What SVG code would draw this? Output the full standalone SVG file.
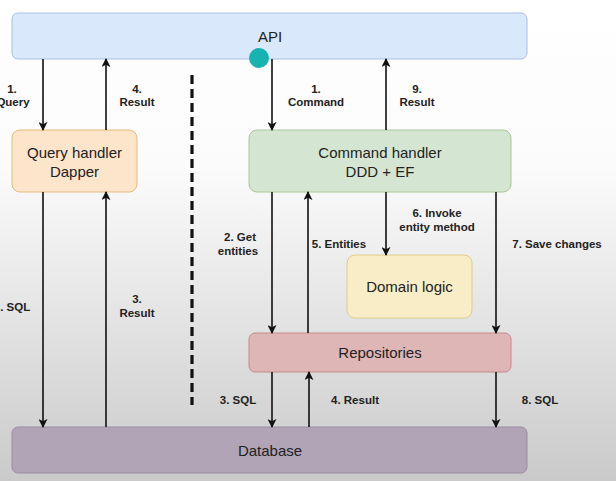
<svg xmlns="http://www.w3.org/2000/svg" width="616" height="481" viewBox="0 0 616 481">
<defs>
<linearGradient id="bg" x1="0" y1="0" x2="0" y2="1">
<stop offset="0" stop-color="#ffffff"/>
<stop offset="0.35" stop-color="#fbfbfb"/>
<stop offset="1" stop-color="#cacaca"/>
</linearGradient>
<marker id="ah" viewBox="0 0 10 10" refX="9" refY="5" markerWidth="9" markerHeight="9" markerUnits="userSpaceOnUse" orient="auto">
<path d="M0,0 L10,5 L0,10 L2.5,5 Z" fill="#111"/>
</marker>
<style>
.node text{font-family:"Liberation Sans",Arial,sans-serif;font-size:15px;fill:#222;text-anchor:middle}
.lbl{font-family:"Liberation Sans",Arial,sans-serif;font-size:11.5px;font-weight:bold;fill:#222;text-anchor:middle}
.edge{stroke:#111;stroke-width:1.6;fill:none;marker-end:url(#ah)}
</style>
</defs>
<rect x="0" y="0" width="616" height="481" fill="url(#bg)"/>

<g id="api" class="node">
<rect x="12" y="13" width="515" height="46" rx="6" fill="#dae8fc" stroke="#a9bfe0" stroke-width="1"/>
<text x="270" y="42">API</text>
</g>
<g id="query-handler" class="node">
<rect x="12" y="130" width="125" height="62" rx="8" fill="#fde5cb" stroke="#e6bb7a" stroke-width="1"/>
<text x="74.5" y="158">Query handler</text>
<text x="74.5" y="177">Dapper</text>
</g>
<g id="command-handler" class="node">
<rect x="249" y="130" width="262" height="62" rx="8" fill="#d4e6d2" stroke="#a8c79a" stroke-width="1"/>
<text x="380" y="158">Command handler</text>
<text x="380" y="177">DDD + EF</text>
</g>
<g id="domain-logic" class="node">
<rect x="347" y="255" width="125" height="63" rx="8" fill="#f8edc6" stroke="#e0cc8a" stroke-width="1"/>
<text x="409.5" y="292">Domain logic</text>
</g>
<g id="repositories" class="node">
<rect x="249" y="333" width="262" height="39" rx="6" fill="#deb6b6" stroke="#c48a88" stroke-width="1"/>
<text x="380" y="358">Repositories</text>
</g>
<g id="database" class="node">
<rect x="12" y="427" width="515" height="46" rx="6" fill="#b1a4b6" stroke="#9a8da0" stroke-width="1"/>
<text x="270" y="456">Database</text>
</g>

<line id="separator" x1="192" y1="75" x2="192" y2="405" stroke="#111" stroke-width="3.2" stroke-dasharray="9,5"/>

<g id="connectors">
<line class="edge" x1="43" y1="59" x2="43" y2="130"/>
<line class="edge" x1="106" y1="130" x2="106" y2="59"/>
<line class="edge" x1="43" y1="192" x2="43" y2="427"/>
<line class="edge" x1="106" y1="427" x2="106" y2="192"/>
<line class="edge" x1="272" y1="59" x2="272" y2="130"/>
<line class="edge" x1="386" y1="130" x2="386" y2="59"/>
<line class="edge" x1="272" y1="192" x2="272" y2="333"/>
<line class="edge" x1="308" y1="333" x2="308" y2="192"/>
<line class="edge" x1="386" y1="192" x2="386" y2="255"/>
<line class="edge" x1="496" y1="192" x2="496" y2="333"/>
<line class="edge" x1="272" y1="372" x2="272" y2="427"/>
<line class="edge" x1="309" y1="427" x2="309" y2="372"/>
<line class="edge" x1="496" y1="372" x2="496" y2="427"/>
</g>

<g id="labels">
<text class="lbl" x="12" y="93">1.</text>
<text class="lbl" x="13" y="106">Query</text>
<text class="lbl" x="137" y="93">4.</text>
<text class="lbl" x="137" y="106">Result</text>
<text class="lbl" x="12" y="311">2. SQL</text>
<text class="lbl" x="137" y="303">3.</text>
<text class="lbl" x="137" y="317">Result</text>
<text class="lbl" x="316" y="93">1.</text>
<text class="lbl" x="316" y="106">Command</text>
<text class="lbl" x="417" y="93">9.</text>
<text class="lbl" x="417" y="106">Result</text>
<text class="lbl" x="240" y="241">2. Get</text>
<text class="lbl" x="238" y="255">entities</text>
<text class="lbl" x="339" y="248">5. Entities</text>
<text class="lbl" x="437" y="217">6. Invoke</text>
<text class="lbl" x="437" y="231">entity method</text>
<text class="lbl" x="557" y="248">7. Save changes</text>
<text class="lbl" x="238" y="404">3. SQL</text>
<text class="lbl" x="355" y="404">4. Result</text>
<text class="lbl" x="540" y="404">8. SQL</text>
</g>

<circle cx="259" cy="58" r="10" fill="#17b3b1"/>
</svg>
